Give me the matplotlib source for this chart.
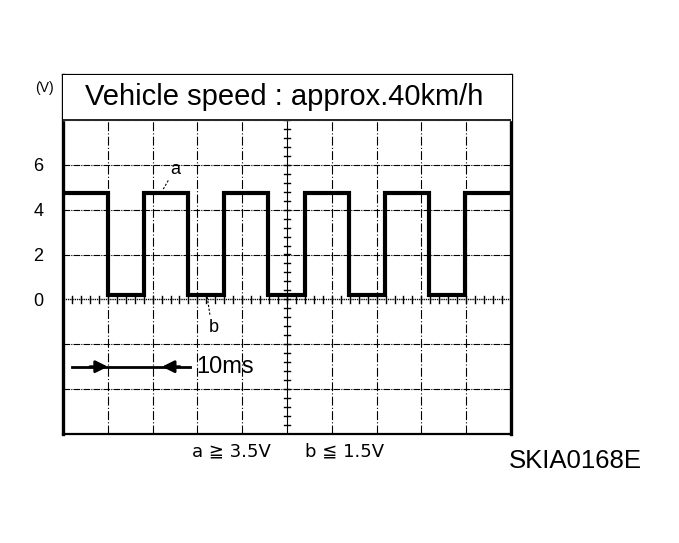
import matplotlib.pyplot as plt
import numpy as np

##################################################
# data (time in ms, volts)
edges_ms = [0, 10.0, 18.1, 27.9, 35.9, 45.8, 54.0, 63.8, 71.9, 81.7, 89.7, 100]
high_v = 4.75
low_v = 0.2
ytick_vals = [0, 2, 4, 6]
ytick_labels = ['0', '2', '4', '6']
title_txt = 'Vehicle speed : approx.40km/h'
note_a = 'a \u2267 3.5V'
note_b = 'b \u2266 1.5V'
code_txt = 'SKIA0168E'
##################################################

plt.rcParams['font.family'] = ['Liberation Sans', 'DejaVu Sans']

fig = plt.figure(figsize=(6.79, 5.43), dpi=100)
ax = fig.add_axes([63/679, 109/543, 448/679, 359/543])
ax.set_xlim(0, 100)
ax.set_ylim(-6, 10)

# grid: 10 x 8 divisions
for gx in np.arange(10, 100, 10):
    if gx == 50:
        continue
    ax.axvline(gx, color='k', lw=0.8, ls=(0, (8, 2, 1, 2)))
for gy in np.arange(-4, 10, 2):
    if gy == 0:
        continue
    ax.axhline(gy, color='k', lw=0.8, ls=(0, (6, 1, 1, 1)))

# centre lines with small ticks
ax.axvline(50, color='k', lw=0.8)
ax.axhline(0, color='k', lw=1.0, ls=(0, (1, 0.6)))
for t in np.arange(-6, 8.01, 0.4):
    ax.plot([49.3, 50.7], [t, t], color='k', lw=1.0)
for t in np.arange(0, 100.01, 2):
    ax.plot([t, t], [-0.15, 0.15], color='k', lw=1.0)

# title box
ax.fill_between([0, 100], 8, 10, color='white', zorder=3)
ax.axhline(8, color='k', lw=1.2, zorder=4)
ax.text(4.9, 9.0, title_txt, fontsize=21, va='center', ha='left', zorder=5)

# square wave
xs = []
ys = []
lev = high_v
for i in range(len(edges_ms) - 1):
    xs += [edges_ms[i], edges_ms[i + 1]]
    ys += [lev, lev]
    lev = low_v if lev == high_v else high_v
ax.plot(xs, ys, color='k', lw=3, solid_joinstyle='miter', zorder=6)

# labels a / b
ax.text(25.0, 5.8, 'a', fontsize=13, ha='center', va='center', zorder=7)
ax.plot([23.5, 22.2], [5.3, 4.85], color='k', lw=0.8, ls=(0, (2, 1.5)))
ax.text(33.6, -1.25, 'b', fontsize=13, ha='center', va='center', zorder=7)
ax.plot([32.2, 32.8], [0.1, -0.7], color='k', lw=0.8, ls=(0, (2, 1.5)))

# 10 ms marker
ax.plot([2, 28.3], [-3, -3], color='k', lw=2)
ax.annotate('', xy=(10, -3), xytext=(6, -3),
            arrowprops=dict(arrowstyle='-|>', color='k', lw=2, mutation_scale=18,
                            shrinkA=0, shrinkB=0))
ax.annotate('', xy=(22.1, -3), xytext=(26.1, -3),
            arrowprops=dict(arrowstyle='-|>', color='k', lw=2, mutation_scale=18,
                            shrinkA=0, shrinkB=0))
ax.text(29.7, -3, '10ms', fontsize=17, va='center', ha='left')

ax.set_xticks([])
ax.set_yticks(ytick_vals)
ax.set_yticklabels(ytick_labels, fontsize=13)
ax.tick_params(axis='y', length=0, pad=14)
for s in ['left', 'right']:
    ax.spines[s].set_linewidth(2.4)
for s in ['top', 'bottom']:
    ax.spines[s].set_linewidth(1.6)

fig.text(35/679, 1 - 88/543, '(V)', fontsize=10, va='center', ha='left')
fig.text(192/679, 1 - 451/543, note_a, fontsize=13, va='center', ha='left',
         family=['DejaVu Sans'])
fig.text(305/679, 1 - 451/543, note_b, fontsize=13, va='center', ha='left',
         family=['DejaVu Sans'])
fig.text(509/679, 1 - 461/543, code_txt, fontsize=18.5, va='center', ha='left')

fig.savefig('out.png', dpi=100)
